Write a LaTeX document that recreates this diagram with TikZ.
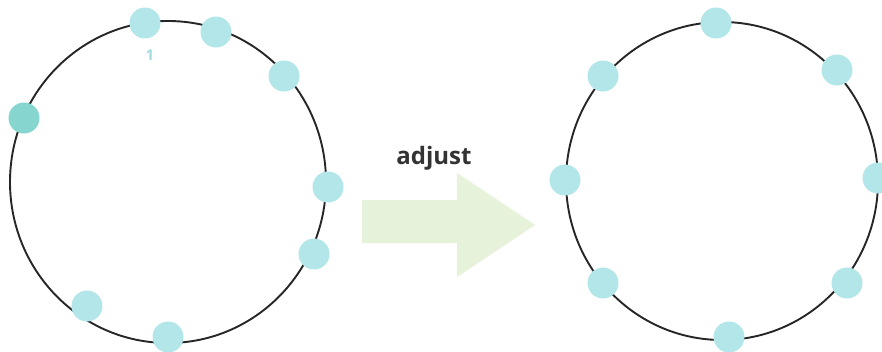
\documentclass[tikz,border=0pt]{standalone}
\usepackage{fontspec}
\setmainfont{Open Sans}
\begin{document}
\begin{tikzpicture}[x=1pt,y=-1pt,
  ring/.style={draw=black!85, line width=1.9pt},
  vnode/.style={circle, fill=cyanlite, inner sep=0pt, minimum size=31pt},
  vnodeactive/.style={vnode, fill=cyanmid},
  idlabel/.style={text=cyanlite!90!teal, font=\bfseries\fontsize{15}{15}\selectfont},
  bigarrow/.style={fill=greenpale, draw=none}]
\definecolor{cyanlite}{HTML}{B3E6E8}
\definecolor{cyanmid}{HTML}{86D5CF}
\definecolor{greenpale}{HTML}{E6F2DA}
\useasboundingbox (0,0) rectangle (882,351);

% ---- ring before adjustment (uneven spacing) ----
\draw[ring] (168,182) ellipse [x radius=158, y radius=161];
\node[vnode] (l1) at (145,23) {};
\node[vnode] (l2) at (216,32) {};
\node[vnode] (l3) at (284,76) {};
\node[vnodeactive] (l4) at (24,118) {};
\node[vnode] (l5) at (328,187) {};
\node[vnode] (l6) at (314,254) {};
\node[vnode] (l7) at (87,306) {};
\node[vnode] (l8) at (168,337) {};
\node[idlabel] (lid) at (150,55) {1};

% ---- arrow with caption ----
\fill[bigarrow] (362,200) -- (457,200) -- (457,173) -- (535,225)
  -- (457,277) -- (457,243) -- (362,243) -- cycle;
\node[text=black!80, font=\bfseries\fontsize{24}{24}\selectfont] (cap) at (434,158) {adjust};

% ---- ring after adjustment (even spacing) ----
\draw[ring] (722,181) ellipse [x radius=156, y radius=159];
\node[vnode] (r1) at (716,23) {};
\node[vnode] (r2) at (837,70) {};
\node[vnode] (r3) at (878,178) {};
\node[vnode] (r4) at (847,283) {};
\node[vnode] (r5) at (729,337) {};
\node[vnode] (r6) at (603,283) {};
\node[vnode] (r7) at (565,180) {};
\node[vnode] (r8) at (603,76) {};
\end{tikzpicture}
\end{document}
